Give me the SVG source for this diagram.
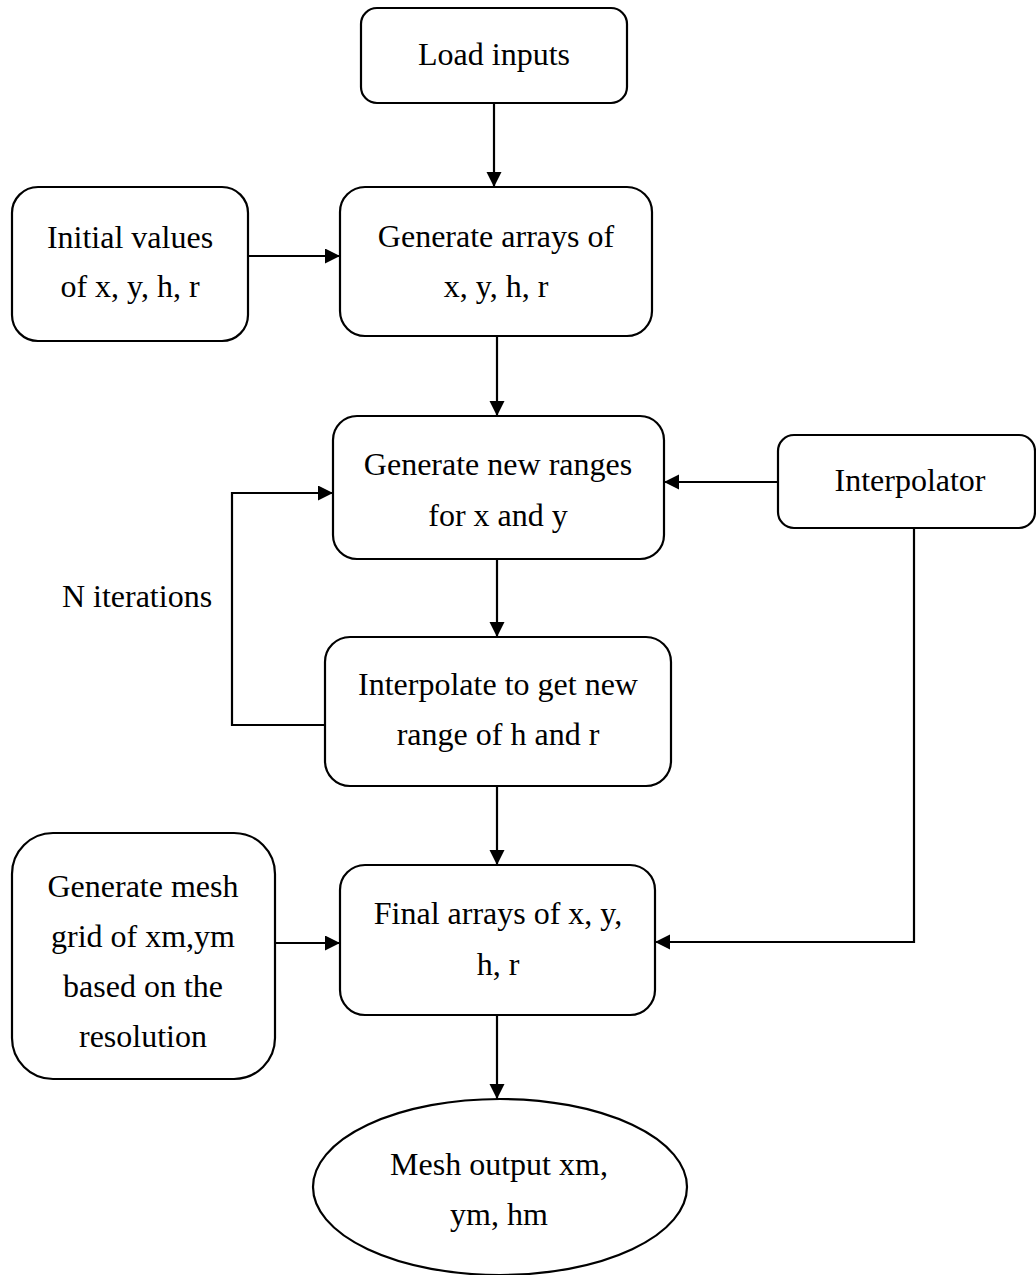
<svg xmlns="http://www.w3.org/2000/svg" width="1036" height="1275" viewBox="0 0 1036 1275">
<style>
.box{fill:#fff;stroke:#000;stroke-width:2.2}
.t{font-family:"Liberation Serif","Times New Roman",serif;font-size:32px;fill:#000;text-anchor:middle}
.c{fill:none;stroke:#000;stroke-width:2.2}
</style>
<defs>
<marker id="ah" markerUnits="userSpaceOnUse" markerWidth="16" markerHeight="16" refX="15" refY="7.5" orient="auto">
<path d="M0,0 L15,7.5 L0,15 z" fill="#000"/>
</marker>
</defs>
<rect width="1036" height="1275" fill="#fff"/>
<g id="connectors">
<path class="c" d="M494,103 V187" marker-end="url(#ah)"/>
<path class="c" d="M248,256 H340" marker-end="url(#ah)"/>
<path class="c" d="M497,336 V416" marker-end="url(#ah)"/>
<path class="c" d="M497,559 V637" marker-end="url(#ah)"/>
<path class="c" d="M325,725 H232 V493 H333" marker-end="url(#ah)"/>
<path class="c" d="M778,482 H664" marker-end="url(#ah)"/>
<path class="c" d="M497,786 V865" marker-end="url(#ah)"/>
<path class="c" d="M914,528 V942 H655" marker-end="url(#ah)"/>
<path class="c" d="M275,943 H340" marker-end="url(#ah)"/>
<path class="c" d="M497,1015 V1099" marker-end="url(#ah)"/>
</g>
<g id="load-inputs">
<rect class="box" x="361" y="8" width="266" height="95" rx="16"/>
<text class="t" x="494" y="65">Load inputs</text>
</g>
<g id="initial-values">
<rect class="box" x="12" y="187" width="236" height="154" rx="26"/>
<text class="t" x="130" y="248">Initial values</text>
<text class="t" x="130" y="297">of x, y, h, r</text>
</g>
<g id="generate-arrays">
<rect class="box" x="340" y="187" width="312" height="149" rx="25"/>
<text class="t" x="496" y="247">Generate arrays of</text>
<text class="t" x="496" y="297">x, y, h, r</text>
</g>
<g id="generate-new-ranges">
<rect class="box" x="333" y="416" width="331" height="143" rx="24"/>
<text class="t" x="498" y="475">Generate new ranges</text>
<text class="t" x="498" y="526">for x and y</text>
</g>
<g id="interpolator">
<rect class="box" x="778" y="435" width="257" height="93" rx="16"/>
<text class="t" x="910" y="491">Interpolator</text>
</g>
<g id="n-iterations">
<text class="t" x="137" y="607">N iterations</text>
</g>
<g id="interpolate">
<rect class="box" x="325" y="637" width="346" height="149" rx="25"/>
<text class="t" x="498" y="695">Interpolate to get new</text>
<text class="t" x="498" y="745">range of h and r</text>
</g>
<g id="generate-mesh">
<rect class="box" x="12" y="833" width="263" height="246" rx="41"/>
<text class="t" x="143" y="897">Generate mesh</text>
<text class="t" x="143" y="947">grid of xm,ym</text>
<text class="t" x="143" y="997">based on the</text>
<text class="t" x="143" y="1047">resolution</text>
</g>
<g id="final-arrays">
<rect class="box" x="340" y="865" width="315" height="150" rx="25"/>
<text class="t" x="498" y="924">Final arrays of x, y,</text>
<text class="t" x="498" y="975">h, r</text>
</g>
<g id="mesh-output">
<ellipse class="box" cx="500" cy="1187" rx="187" ry="88"/>
<text class="t" x="499" y="1175">Mesh output xm,</text>
<text class="t" x="499" y="1225">ym, hm</text>
</g>
</svg>
